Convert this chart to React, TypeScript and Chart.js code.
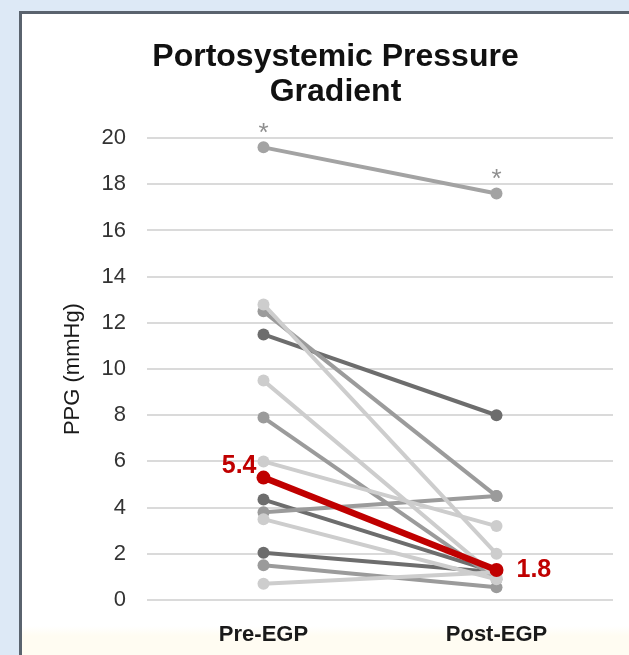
import React, { useEffect, useRef } from "react";
import { Chart, registerables } from "chart.js";

Chart.register(...registerables);

// ---- data ----
const categories = ["Pre-EGP", "Post-EGP"];
const preValues = [19.6, 12.8, 12.5, 11.5, 9.5, 7.9, 6.0, 4.35, 3.8, 3.5, 2.05, 1.5, 0.7];
const postValues = [17.6, 2.0, 4.5, 8.0, 1.0, 0.9, 3.2, 1.2, 4.5, 0.9, 1.2, 0.55, 1.2];
const shades = ["top", "light", "medium", "dark", "light", "medium", "light", "dark", "medium", "light", "dark", "medium", "light"];
const meanValues = [5.3, 1.3];
const meanLabels = ["5.4", "1.8"];
const starMark = "*";
const yMin = 0;
const yMax = 20;
const yStep = 2;
const chartTitle = ["Portosystemic Pressure", "Gradient"];
const yAxisTitle = "PPG (mmHg)";

const shadeColors: Record<string, string> = {
  top: "#a3a3a3",
  light: "#cdcdcd",
  medium: "#9b9b9b",
  dark: "#6d6d6d",
};
const RED = "#c00000";
const FONT = '"Liberation Sans", Arial, sans-serif';

const annotations = {
  id: "annotations",
  afterDatasetsDraw(chart: any) {
    const ctx = chart.ctx;
    const redMeta = chart.getDatasetMeta(0);
    const a = redMeta.data[0];
    const b = redMeta.data[1];
    ctx.save();
    ctx.font = `bold 25px ${FONT}`;
    ctx.fillStyle = RED;
    ctx.textBaseline = "middle";
    ctx.textAlign = "right";
    ctx.fillText(meanLabels[0], a.x - 7, a.y - 11);
    ctx.textAlign = "left";
    ctx.fillText(meanLabels[1], b.x + 20, b.y);
    // asterisks above the top series
    const tm = chart.getDatasetMeta(1);
    ctx.font = `26px ${FONT}`;
    ctx.fillStyle = "#8f8f8f";
    ctx.textAlign = "center";
    tm.data.forEach((pt: any) => {
      ctx.fillText(starMark, pt.x, pt.y - 14);
    });
    ctx.restore();
  },
};

export default function App() {
  const ref = useRef<HTMLCanvasElement | null>(null);

  useEffect(() => {
    if (!ref.current) return;
    const grayDatasets = preValues.map((v, i) => ({
      label: `P${i + 1}`,
      shade: shades[i],
      data: [v, postValues[i]],
      borderColor: shadeColors[shades[i]],
      backgroundColor: shadeColors[shades[i]],
      pointBackgroundColor: shadeColors[shades[i]],
      pointBorderColor: shadeColors[shades[i]],
      borderWidth: 4,
      pointRadius: 6,
      pointBorderWidth: 0,
      tension: 0,
    }));
    const order = ["top", "light", "medium", "dark"];
    grayDatasets.sort((x, y) => order.indexOf(x.shade) - order.indexOf(y.shade));
    const chart = new Chart(ref.current, {
      type: "line",
      data: {
        labels: categories,
        datasets: [
          {
            label: "Mean",
            data: meanValues,
            borderColor: RED,
            backgroundColor: RED,
            pointBackgroundColor: RED,
            pointBorderColor: RED,
            borderWidth: 6.5,
            pointRadius: 7,
            pointBorderWidth: 0,
            tension: 0,
          },
          ...grayDatasets,
        ],
      },
      options: {
        animation: false,
        responsive: false,
        events: [],
        layout: { padding: { left: 36, right: 16, top: 0, bottom: 0 } },
        plugins: {
          legend: { display: false },
          tooltip: { enabled: false },
          title: {
            display: true,
            text: chartTitle,
            color: "#111111",
            font: { family: FONT, size: 32, weight: "bold", lineHeight: 1.08 },
            padding: { top: 26, bottom: 29 },
          },
        },
        scales: {
          x: {
            type: "category",
            offset: true,
            grid: { display: false },
            border: { display: false },
            ticks: {
              color: "#1a1a1a",
              font: { family: FONT, size: 22, weight: "bold" },
              padding: 14,
            },
            afterFit: (s: any) => {
              s.height = 55;
            },
          },
          y: {
            min: yMin,
            max: yMax,
            grid: { color: "#dadada", lineWidth: 2, drawTicks: false },
            border: { display: false },
            ticks: {
              stepSize: yStep,
              color: "#333333",
              font: { family: FONT, size: 22 },
              padding: 21,
            },
            title: {
              display: true,
              text: yAxisTitle,
              color: "#1a1a1a",
              font: { family: FONT, size: 22 },
              padding: { top: 2, bottom: 0 },
            },
            afterFit: (s: any) => {
              s.width = 89;
            },
          },
        },
      },
      plugins: [annotations],
    });
    return () => chart.destroy();
  }, []);

  return (
    <div style={{ position: "fixed", inset: 0, background: "#dde9f6", overflow: "hidden" }}>
      <div
        style={{
          position: "absolute",
          left: 19,
          top: 11,
          width: 640,
          height: 680,
          border: "3px solid #5a636e",
          background: "linear-gradient(#ffffff 0px, #ffffff 612px, #fffcf2 622px, #fffcf2 100%)",
        }}
      >
        <canvas ref={ref} width={607} height={641} style={{ display: "block" }} />
      </div>
    </div>
  );
}
